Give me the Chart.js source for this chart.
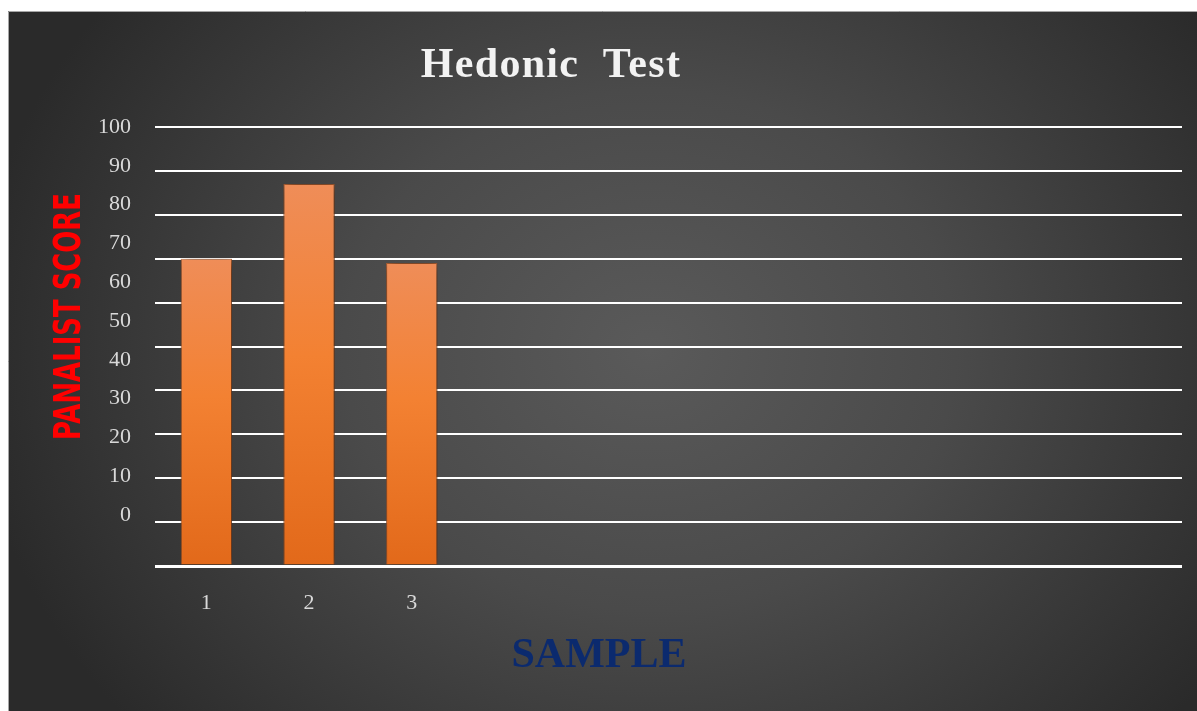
<!DOCTYPE html>
<html>
<head>
<meta charset="utf-8">
<script src="https://cdn.jsdelivr.net/npm/chart.js@4.4.1/dist/chart.umd.min.js"></script>
<style>
  html, body { margin: 0; padding: 0; background: #fff; overflow: hidden; }
</style>
</head>
<body>
<canvas id="hedonicChart" width="1197" height="711"></canvas>
<script>
// data
const samples = ['1', '2', '3', '', '', '', '', '', '', ''];
const scores = [70, 87, 69];
const yTicks = [0, 10, 20, 30, 40, 50, 60, 70, 80, 90, 100];

const serif = '"Liberation Serif", "Times New Roman", serif';

// dark radial backdrop with white margin on the left and top
const backdrop = {
  id: 'backdrop',
  beforeDraw(chart) {
    const ctx = chart.ctx;
    ctx.save();
    ctx.fillStyle = '#ffffff';
    ctx.fillRect(0, 0, chart.width, chart.height);
    ctx.translate(650, 350);
    ctx.scale(1, 0.85);
    const g = ctx.createRadialGradient(0, 0, 0, 0, 0, 680);
    g.addColorStop(0, '#5a5a5a');
    g.addColorStop(0.45, '#4a4a4a');
    g.addColorStop(1, '#2a2a2a');
    ctx.fillStyle = g;
    ctx.fillRect(8 - 650, (11 - 350) / 0.85, chart.width, chart.height / 0.85);
    ctx.restore();
    ctx.save();
    ctx.strokeStyle = '#a6a6a6';
    ctx.lineWidth = 1;
    ctx.beginPath();
    ctx.moveTo(8.5, chart.height);
    ctx.lineTo(8.5, 11.5);
    ctx.lineTo(chart.width, 11.5);
    ctx.stroke();
    ctx.restore();
  }
};

// soft shadow behind the bars
const barShadow = {
  id: 'barShadow',
  beforeDatasetsDraw(chart) {
    const ctx = chart.ctx;
    ctx.save();
    ctx.shadowColor = 'rgba(0,0,0,0.75)';
    ctx.shadowBlur = 12;
    ctx.shadowOffsetX = 2;
    ctx.shadowOffsetY = 1;
  },
  afterDatasetsDraw(chart) {
    chart.ctx.restore();
  }
};

// title and axis titles
const labels = {
  id: 'labels',
  afterDraw(chart) {
    const ctx = chart.ctx;
    ctx.save();
    ctx.textAlign = 'center';
    ctx.textBaseline = 'alphabetic';

    ctx.fillStyle = '#f2f2f2';
    ctx.font = 'bold 42px ' + serif;
    ctx.letterSpacing = '1.3px';
    ctx.fillText('Hedonic  Test', 551, 77);
    ctx.letterSpacing = '0px';

    ctx.fillStyle = '#0b2a6e';
    ctx.font = 'bold 42px ' + serif;
    ctx.fillText('SAMPLE', 599, 667);

    ctx.fillStyle = '#ff0000';
    const size = 37;
    ctx.font = 'bold ' + size + 'px "Liberation Sans Narrow", "DejaVu Sans Condensed", "Liberation Sans", sans-serif';
    const w = ctx.measureText('PANALIST SCORE').width;
    ctx.translate(66.5, 316.5);
    ctx.rotate(-Math.PI / 2);
    ctx.scale(247 / w, 1);
    ctx.fillText('PANALIST SCORE', 0, size * 0.716 / 2);
    ctx.restore();
  }
};

function barFill(c) {
  const chart = c.chart;
  if (!chart.chartArea || !c.parsed) return '#f07d2c';
  const y = chart.scales.y;
  const top = y.getPixelForValue(c.parsed.y);
  const bottom = y.getPixelForValue(0);
  const g = chart.ctx.createLinearGradient(0, top, 0, bottom);
  g.addColorStop(0, '#ef8d58');
  g.addColorStop(0.45, '#f38132');
  g.addColorStop(1, '#e2691a');
  return g;
}

const ctxHedonic = document.getElementById('hedonicChart').getContext('2d');
new Chart(ctxHedonic, {
  type: 'bar',
  data: {
    labels: samples,
    datasets: [{
      data: scores,
      backgroundColor: barFill,
      borderColor: 'rgba(214,110,50,0.8)',
      borderWidth: 1,
      borderSkipped: 'bottom',
      barPercentage: 0.5,
      categoryPercentage: 1
    }]
  },
  options: {
    responsive: false,
    animation: false,
    layout: { padding: { top: 127, right: 15, left: 0, bottom: 0 } },
    plugins: {
      legend: { display: false },
      tooltip: { enabled: false },
      title: { display: false }
    },
    scales: {
      x: {
        grid: { display: false },
        border: { display: false },
        ticks: {
          color: '#d9d9d9',
          font: { family: serif, size: 22 },
          padding: 16,
          autoSkip: false,
          maxRotation: 0
        },
        afterFit: s => { s.height = 711 - 566; }
      },
      y: {
        position: 'left',
        min: 0,
        max: 100,
        ticks: { display: false, stepSize: 10 },
        grid: {
          color: '#ffffff',
          lineWidth: c => (c.tick && c.tick.value === 0 ? 3 : 2),
          drawTicks: false
        },
        border: { display: false },
        afterFit: s => { s.width = 0; }
      },
      yLabels: {
        position: 'left',
        min: -13.1,
        max: 100,
        grid: { display: false, drawTicks: false },
        border: { display: false },
        ticks: {
          color: '#d9d9d9',
          font: { family: serif, size: 22 },
          padding: 24
        },
        afterBuildTicks: s => { s.ticks = yTicks.map(v => ({ value: v })); },
        afterFit: s => { s.width = 155; }
      }
    }
  },
  plugins: [backdrop, barShadow, labels]
});
</script>
</body>
</html>
